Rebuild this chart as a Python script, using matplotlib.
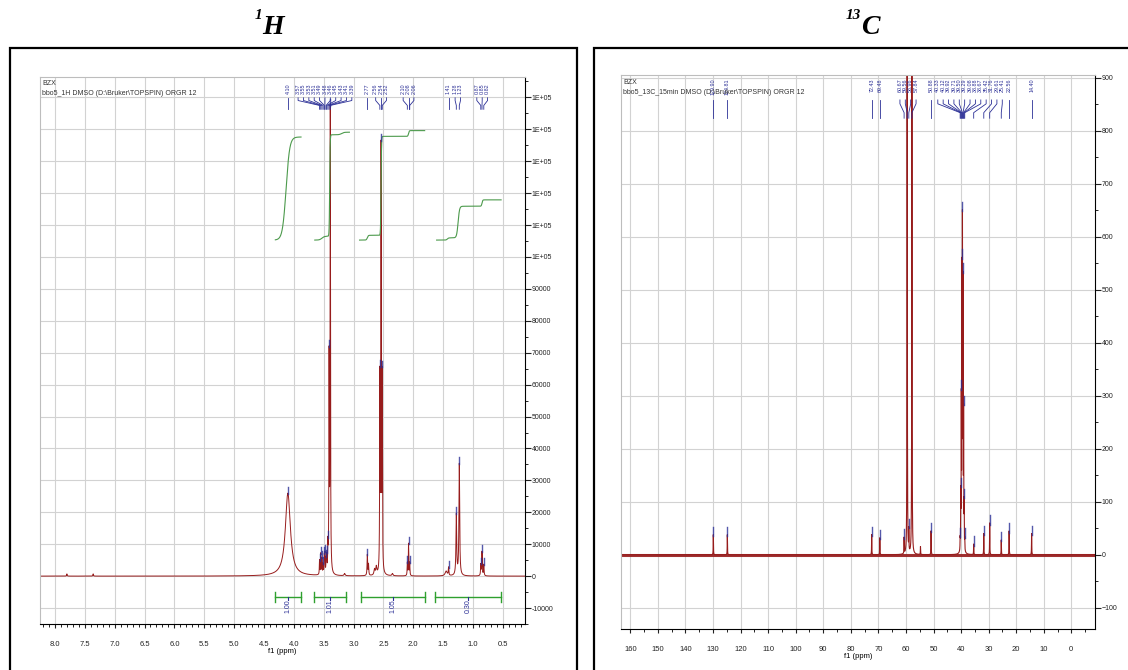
import numpy as np
import matplotlib.pyplot as plt
from matplotlib.patches import Rectangle
from matplotlib.ticker import MultipleLocator, FuncFormatter, FormatStrFormatter
from matplotlib.transforms import blended_transform_factory

plt.rcParams['font.family'] = ['Liberation Sans', 'DejaVu Sans']

RED = '#971c1c'
BLUE = '#2b2f96'
GREEN = '#4c9a4c'
BAR_GREEN = '#2fa02f'
GRID = '#d2d2d2'

# ---- 1H spectrum: peak positions (ppm), heights, half widths
h_ppm = [7.80, 7.36, 4.10, 3.57, 3.55, 3.53, 3.51, 3.49, 3.48, 3.46, 3.45, 3.43, 3.41, 3.39,
         3.15, 2.77, 2.75, 2.65, 2.62, 2.56, 2.54, 2.52, 2.35, 2.10, 2.08, 2.06,
         1.45, 1.41, 1.28, 1.23, 0.87, 0.85, 0.82]
h_height = [700, 700, 26000, 4500, 6500, 5000, 3000, 5500, 6000, 4000, 5000, 8000, 66000, 145000,
            700, 6500, 3500, 1800, 2500, 60000, 132000, 60000, 700, 4000, 10000, 4000,
            1500, 2500, 19000, 35000, 3500, 7500, 3500]
h_width = [0.005, 0.005, 0.05, 0.004, 0.004, 0.004, 0.004, 0.004, 0.004, 0.004, 0.004, 0.004, 0.004, 0.004,
           0.01, 0.005, 0.005, 0.01, 0.01, 0.004, 0.004, 0.004, 0.01, 0.004, 0.004, 0.004,
           0.02, 0.005, 0.007, 0.007, 0.005, 0.005, 0.005]
h_labels = [4.10, 3.57, 3.55, 3.53, 3.51, 3.49, 3.48, 3.46, 3.45, 3.43, 3.41, 3.39,
            2.77, 2.56, 2.54, 2.52, 2.10, 2.08, 2.06, 1.41, 1.28, 1.23, 0.87, 0.85, 0.82]

# integration regions
int_ranges = [(4.32, 3.88), (3.67, 3.13), (2.87, 1.81), (1.63, 0.54)]
int_values = ['1.00', '1.01', '1.05', '0.30']
# integral curves: start, end, base level, steps (centre, rise, width)
curve_span = [(4.31, 3.88), (3.65, 3.07), (2.90, 1.81), (1.61, 0.53)]
curve_base = [105300, 105300, 105300, 105300]
curve_steps = [[(4.13, 32300, 0.03)],
               [(3.53, 1200, 0.02), (3.40, 31800, 0.004), (3.20, 800, 0.02)],
               [(2.77, 1500, 0.008), (2.54, 31000, 0.004), (2.08, 1800, 0.006)],
               [(1.43, 700, 0.01), (1.25, 9900, 0.012), (0.85, 2000, 0.006)]]

# ---- 13C spectrum
c_ppm = [129.90, 124.81, 72.43, 69.48, 60.67, 59.56, 58.96, 57.84, 54.73, 50.88,
         40.33, 40.12, 39.92, 39.71, 39.50, 39.29, 39.08, 38.88, 38.67,
         35.42, 31.76, 29.61, 25.41, 22.56, 14.40]
c_height = [38, 38, 38, 32, 30, 1500, 40, 1500, 15, 45,
            20, 100, 268, 505, 590, 480, 242, 81, 20,
            20, 40, 60, 28, 45, 40]
c_labels = [129.90, 124.81, 72.43, 69.48, 60.67, 59.56, 58.96, 57.84, 50.88,
            40.33, 40.12, 39.92, 39.71, 39.50, 39.29, 39.08, 38.88, 38.67,
            35.42, 31.76, 29.61, 25.41, 22.56, 14.40]


def lorentz(x, pos, hts, wds):
    y = np.zeros_like(x)
    for p, h, w in zip(pos, hts, wds):
        y += h / (1 + ((x - p) / w) ** 2)
    return y


def peak_labels(ax, peaks, gap, fs, ys, spec_x, spec_y, mark):
    y_top, y0, y1, y2, y3 = ys
    groups = [[p] for p in sorted(peaks, reverse=True)]

    def lab(g):
        c = np.mean(g)
        n = len(g)
        return [c + gap * ((n - 1) / 2 - i) for i in range(n)]

    merged = True
    while merged:
        merged = False
        for i in range(len(groups) - 1):
            if lab(groups[i])[-1] - lab(groups[i + 1])[0] < gap:
                groups[i] = groups[i] + groups[i + 1]
                del groups[i + 1]
                merged = True
                break
    tr = blended_transform_factory(ax.transData, ax.transAxes)
    for g in groups:
        for p, lx in zip(g, lab(g)):
            ax.text(lx, y_top, f'{p:.2f}', rotation=90, ha='center', va='top',
                    fontsize=fs, color=BLUE, transform=tr)
            ax.plot([lx, lx, p, p], [y0, y1, y2, y3], color=BLUE, lw=0.6,
                    transform=tr, clip_on=False)
            top = spec_y[np.argmin(np.abs(spec_x - p))]
            ax.plot([p, p], [top - mark * 0.2, top + mark], color=BLUE, lw=1.0, alpha=0.8)


def style_axes(ax):
    ax.set_facecolor('white')
    for s in ['left', 'top']:
        ax.spines[s].set_color('#bdbdbd')
        ax.spines[s].set_linewidth(0.8)
    ax.spines['right'].set_color('black')
    ax.spines['bottom'].set_color('black')
    ax.yaxis.tick_right()
    ax.tick_params(axis='y', which='major', direction='out', length=4, width=0.8,
                   labelsize=5, pad=1, colors='#222222')
    ax.tick_params(axis='y', which='minor', direction='out', length=2, width=0.6)
    ax.tick_params(axis='x', which='major', direction='out', length=3, width=0.8,
                   labelsize=5.5, pad=9, colors='#222222')
    ax.tick_params(axis='x', which='minor', direction='out', length=2, width=0.6)
    ax.grid(True, which='major', color=GRID, lw=0.8)
    ax.set_axisbelow(True)


fig = plt.figure(figsize=(11.28, 6.70), dpi=100)

# panel boxes and titles
for x0, w in [(10, 567), (594, 560)]:
    fig.patches.append(Rectangle((x0 / 1128, -0.05), w / 1128, 0.05 + 1 - 48 / 670,
                                 transform=fig.transFigure, fill=False,
                                 edgecolor='black', lw=1.6))
tfont = dict(family='Liberation Serif', style='italic', weight='bold')
fig.text(262 / 1128, 1 - 9 / 670, '1', ha='right', va='top', fontsize=11, **tfont)
fig.text(262 / 1128, 1 - 34 / 670, 'H', ha='left', va='baseline', fontsize=20, **tfont)
fig.text(861 / 1128, 1 - 9 / 670, '13', ha='right', va='top', fontsize=11, **tfont)
fig.text(861 / 1128, 1 - 34 / 670, 'C', ha='left', va='baseline', fontsize=20, **tfont)

# ---------------- 1H ----------------
ax1 = fig.add_axes([40 / 1128, 1 - 624 / 670, 485 / 1128, 547 / 670])
style_axes(ax1)
hx = np.linspace(8.25, 0.13, 40000)
hy = lorentz(hx, h_ppm, h_height, h_width)
ax1.plot(hx, hy, color=RED, lw=0.7)
ax1.set_xlim(8.25, 0.13)
ax1.set_ylim(-15000, 156400)
ax1.set_xticks(np.arange(8.0, 0.49, -0.5))
ax1.xaxis.set_minor_locator(MultipleLocator(0.1))
ax1.xaxis.set_major_formatter(FormatStrFormatter('%.1f'))
ax1.set_yticks(np.arange(-10000, 150001, 10000))
ax1.yaxis.set_minor_locator(MultipleLocator(5000))
ax1.yaxis.set_major_formatter(FuncFormatter(lambda v, p: '1E+05' if v > 99999 else f'{int(round(v))}'))
ax1.set_xlabel('f1 (ppm)', fontsize=5.5, labelpad=0)

# integral curves
for (a, b), base, steps in zip(curve_span, curve_base, curve_steps):
    xs = np.linspace(a, b, 800)
    ys = np.full_like(xs, base, dtype=float)
    for c, rise, w in steps:
        ys += rise / (1 + np.exp(-(c - xs) / w))
    ax1.plot(xs, ys, color=GREEN, lw=0.8)

# integration bars
for (a, b), v in zip(int_ranges, int_values):
    ax1.plot([a, b], [-6600, -6600], color=BAR_GREEN, lw=1.0)
    for e in (a, b):
        ax1.plot([e, e], [-8200, -5000], color=BAR_GREEN, lw=1.0)
    c = (a + b) / 2
    ax1.plot([c, c], [-6600, -7400], color=BLUE, lw=0.8)
    ax1.text(c, -7400, v, rotation=90, ha='center', va='top', fontsize=5, color=BLUE)

peak_labels(ax1, h_labels, 0.09, 3.9, (0.989, 0.962, 0.957, 0.948, 0.941), hx, hy, 1800)
ax1.text(0.005, 0.995, 'BZX', transform=ax1.transAxes, fontsize=5, va='top', color='#333333')
ax1.text(0.005, 0.977, 'bbo5_1H DMSO (D:\\Bruker\\TOPSPIN) ORGR 12', transform=ax1.transAxes,
         fontsize=5, va='top', color='#333333')

# ---------------- 13C ----------------
ax2 = fig.add_axes([621 / 1128, 1 - 629 / 670, 474 / 1128, 554 / 670])
style_axes(ax2)
cx = np.linspace(163.4, -8.6, 60000)
cy = lorentz(cx, c_ppm, c_height, [0.05] * len(c_ppm))
ax2.plot([163.4, -8.6], [0, 0], color=RED, lw=2.2, alpha=0.9)
ax2.plot(cx, cy, color=RED, lw=0.8)
ax2.set_xlim(163.4, -8.6)
ax2.set_ylim(-140, 905)
ax2.set_xticks(np.arange(160, -1, -10))
ax2.xaxis.set_minor_locator(MultipleLocator(5))
ax2.set_yticks(np.arange(-100, 901, 100))
ax2.yaxis.set_minor_locator(MultipleLocator(50))
ax2.set_xlabel('f1 (ppm)', fontsize=5.5, labelpad=0)
peak_labels(ax2, c_labels, 1.95, 3.9, (0.994, 0.955, 0.948, 0.932, 0.922), cx, cy, 15)
ax2.text(0.005, 0.993, 'BZX', transform=ax2.transAxes, fontsize=5, va='top', color='#333333')
ax2.text(0.005, 0.975, 'bbo5_13C_15min DMSO (D:\\Bruker\\TOPSPIN) ORGR 12', transform=ax2.transAxes,
         fontsize=5, va='top', color='#333333')

fig.savefig('out.png', dpi=100)
